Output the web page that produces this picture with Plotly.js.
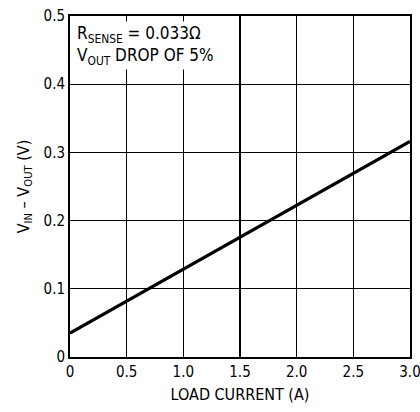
<!DOCTYPE html>
<html>
<head>
<meta charset="utf-8">
<script src="https://cdn.plot.ly/plotly-3.0.1.min.js"></script>
<style>html,body{margin:0;padding:0;background:#fff;}#chart{width:420px;height:412px;}</style>
</head>
<body>
<div id="chart"></div>
<script>
const loadCurrent = [0, 3.0];
const dropVoltage = [0.035, 0.316];
const xTicks = [0, 0.5, 1.0, 1.5, 2.0, 2.5, 3.0];
const xTickLabels = ['0', '0.5', '1.0', '1.5', '2.0', '2.5', '3.0'];
const yTicks = [0, 0.1, 0.2, 0.3, 0.4, 0.5];
const yTickLabels = ['0', '0.1', '0.2', '0.3', '0.4', '0.5'];

const FONT = '"DejaVu Sans Condensed", "Liberation Sans Narrow", "Liberation Sans", Arial, sans-serif';

const trace = {
  x: loadCurrent, y: dropVoltage, mode: 'lines', type: 'scatter',
  line: {color: '#000', width: 3.2}, hoverinfo: 'skip', showlegend: false
};

const layout = {
  width: 420, height: 412,
  margin: {l: 70, r: 10, t: 16, b: 55},
  paper_bgcolor: '#fff', plot_bgcolor: '#fff',
  font: {family: FONT, size: 15, color: '#000'},
  xaxis: {
    range: [0, 3.0], tickvals: xTicks, ticktext: xTickLabels,
    showgrid: true, gridcolor: '#000', gridwidth: 1.3,
    showline: true, linecolor: '#000', linewidth: 2, mirror: true,
    zeroline: false, ticks: '', ticklen: 0, ticklabeloverflow: 'allow',
    tickfont: {family: FONT, size: 15},
    title: {text: 'LOAD CURRENT (A)', font: {family: FONT, size: 16}, standoff: 9}
  },
  yaxis: {
    range: [0, 0.5], tickvals: yTicks, ticktext: yTickLabels,
    showgrid: true, gridcolor: '#000', gridwidth: 1.3,
    showline: true, linecolor: '#000', linewidth: 2, mirror: true,
    zeroline: false, ticks: '',
    tickfont: {family: FONT, size: 15},
    title: {text: 'V<sub>IN</sub> – V<sub>OUT</sub> (V)', font: {family: FONT, size: 16}, standoff: 10}
  },
  annotations: [{
    xref: 'x', yref: 'y', x: 0.04, y: 0.492, xanchor: 'left', yanchor: 'top',
    align: 'left', showarrow: false, bgcolor: '#fff', borderpad: 1,
    text: 'R<sub>SENSE</sub> = 0.033Ω<br>V<sub>OUT</sub> DROP OF 5%',
    font: {family: FONT, size: 17, color: '#000'}
  }]
};

Plotly.newPlot('chart', [trace], layout, {staticPlot: true, displayModeBar: false});
</script>
</body>
</html>
